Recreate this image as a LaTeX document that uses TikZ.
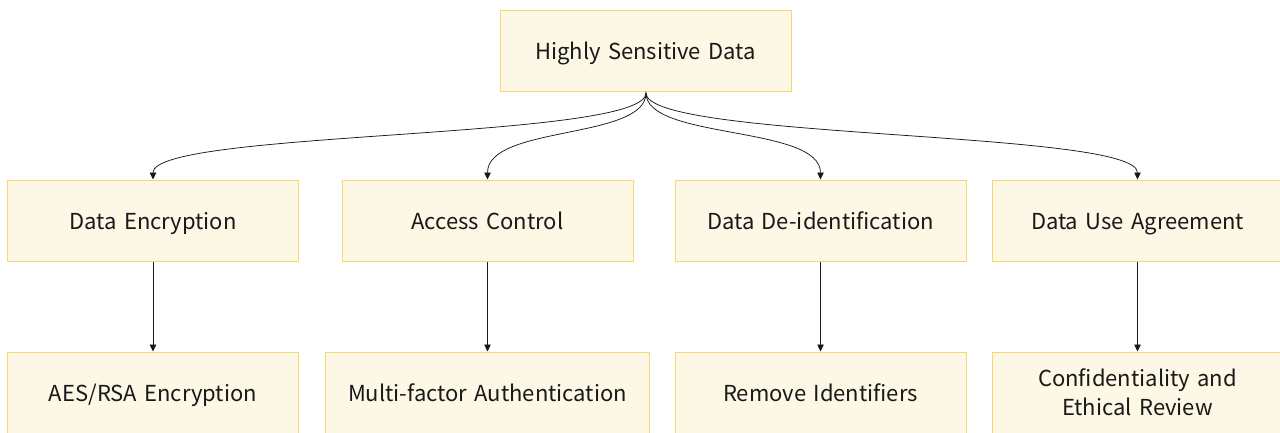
\documentclass[tikz,border=0pt]{standalone}
\usepackage{fontspec}
\setmainfont{Noto Sans CJK SC}
\usetikzlibrary{arrows.meta}
\definecolor{boxfill}{RGB}{253,248,229}
\definecolor{boxline}{RGB}{246,216,112}
\definecolor{ink}{RGB}{25,25,25}
\tikzset{
  box/.style={draw=boxline, fill=boxfill, line width=1pt, minimum height=81pt,
    text width=#1, align=center, inner sep=0pt, text height=20pt, text depth=2pt,
    font=\fontsize{22}{28.5}\selectfont, text=ink},
  box/.default=291pt,
  twoline/.style={text height=2pt, text depth=14pt},
  link/.style={draw=ink, line width=0.75pt, -{Triangle[length=7pt,width=6.5pt]}}
}
\begin{document}
\begin{tikzpicture}[x=1pt,y=-1pt]
\useasboundingbox (0,0) rectangle (1280,432);
\clip (0,0) rectangle (1280,432);
% root
\node[box] (root) at (645.5,50.5) {Highly Sensitive Data};
\coordinate (hub) at (646,93);
% second level
\node[box] (enc) at (153,220.5) {Data Encryption};
\node[box] (acc) at (487.5,220.5) {Access Control};
\node[box] (deid) at (820.5,220.5) {Data De-identification};
\node[box] (dua) at (1137.5,220.5) {Data Use Agreement};
% third level
\node[box] (aes) at (153,392.5) {AES/RSA Encryption};
\node[box=324pt] (mfa) at (487.5,392.5) {Multi-factor Authentication};
\node[box] (rem) at (820.5,392.5) {Remove Identifiers};
\node[box, twoline] (conf) at (1137.5,392.5) {Confidentiality and\\Ethical Review};
% branches from the root
\draw (root.south) -- (hub);
\draw[link] (hub) .. controls (646,140) and (153,130) .. (enc.north);
\draw[link] (hub) .. controls (646,140) and (487.5,125) .. (acc.north);
\draw[link] (hub) .. controls (646,140) and (820.5,125) .. (deid.north);
\draw[link] (hub) .. controls (646,140) and (1137.5,130) .. (dua.north);
% down to the measures
\draw[link] (enc.south) -- (aes.north);
\draw[link] (acc.south) -- (mfa.north);
\draw[link] (deid.south) -- (rem.north);
\draw[link] (dua.south) -- (conf.north);
\end{tikzpicture}
\end{document}
